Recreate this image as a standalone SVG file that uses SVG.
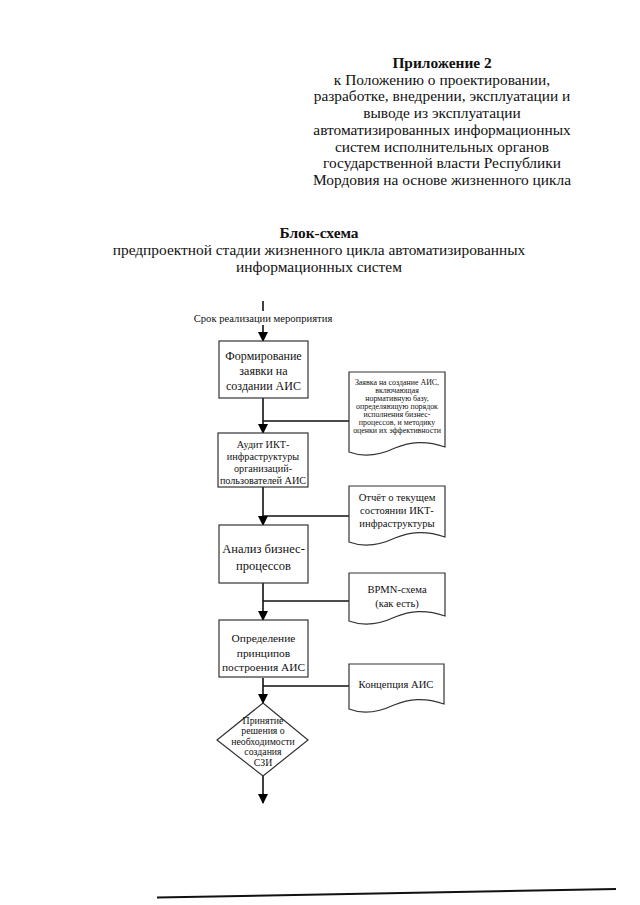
<svg xmlns="http://www.w3.org/2000/svg" width="640" height="905" viewBox="0 0 640 905" font-family="'Liberation Serif','Times New Roman',serif">
<defs>
<marker id="ah" markerWidth="10" markerHeight="10" refX="9" refY="5" orient="auto" markerUnits="userSpaceOnUse">
<path d="M0,0 L10,5 L0,10 Z" fill="#000"/>
</marker>
<style>
text{font-family:"Liberation Serif","Times New Roman",serif;fill:#111;text-anchor:middle}
.h{font-size:15.4px}
.b{font-weight:bold}
.box{fill:#fff;stroke:#333;stroke-width:1.2}
.doc{fill:#fff;stroke:#333;stroke-width:1.2}
.c{stroke:#111;stroke-width:1.6;fill:none}
.t14{font-size:12px}
.t13{font-size:12.5px}
.t12{font-size:11.4px}
.t11{font-size:10.6px}
.t10{font-size:10.2px}
.t9{font-size:9.8px}
.t8{font-size:7.9px}
</style>
</defs>
<rect width="640" height="905" fill="#fff"/>

<g id="header">
<text class="h b" x="442" y="68">Приложение 2</text>
<text class="h" x="442" y="85">к Положению о проектировании,</text>
<text class="h" x="442" y="101">разработке, внедрении, эксплуатации и</text>
<text class="h" x="442" y="118">выводе из эксплуатации</text>
<text class="h" x="442" y="135">автоматизированных информационных</text>
<text class="h" x="442" y="152">систем исполнительных органов</text>
<text class="h" x="442" y="168">государственной власти Республики</text>
<text class="h" x="442" y="185">Мордовия на основе жизненного цикла</text>
</g>

<g id="title">
<text class="h b" x="319" y="238">Блок-схема</text>
<text class="h" x="319" y="255">предпроектной стадии жизненного цикла автоматизированных</text>
<text class="h" x="319" y="272">информационных систем</text>
</g>

<g id="start">
<text class="t11" x="263" y="322">Срок реализации мероприятия</text>
</g>

<g id="connectors">
<line class="c" x1="263" y1="301" x2="263" y2="311"/>
<line class="c" x1="263" y1="325" x2="263" y2="341" marker-end="url(#ah)"/>
<line class="c" x1="263" y1="398" x2="263" y2="433" marker-end="url(#ah)"/>
<line class="c" x1="349" y1="421" x2="263" y2="421"/>
<line class="c" x1="263" y1="487" x2="263" y2="525" marker-end="url(#ah)"/>
<line class="c" x1="349" y1="516" x2="263" y2="516"/>
<line class="c" x1="263" y1="583" x2="263" y2="620" marker-end="url(#ah)"/>
<line class="c" x1="349" y1="601" x2="263" y2="601"/>
<line class="c" x1="263" y1="678" x2="263" y2="703" marker-end="url(#ah)"/>
<line class="c" x1="349" y1="686" x2="263" y2="686"/>
<line class="c" x1="263" y1="776" x2="263" y2="803" marker-end="url(#ah)"/>
</g>

<g id="box1">
<rect class="box" x="219" y="341" width="89" height="57"/>
<text class="t14" x="263.5" y="360">Формирование</text>
<text class="t14" x="263.5" y="375">заявки на</text>
<text class="t14" x="263.5" y="390">создании АИС</text>
</g>

<g id="doc1">
<path class="doc" d="M349,372 H445 V447 C425,440 410,442 395,448 C380,455 365,458 349,452 Z"/>
<text class="t8" x="397" y="385">Заявка на создание АИС,</text>
<text class="t8" x="397" y="393">включающая</text>
<text class="t8" x="397" y="401">нормативную базу,</text>
<text class="t8" x="397" y="409">определяющую порядок</text>
<text class="t8" x="397" y="417">исполнения бизнес-</text>
<text class="t8" x="397" y="425">процессов, и методику</text>
<text class="t8" x="397" y="433">оценки их эффективности</text>
</g>

<g id="box2">
<rect class="box" x="218" y="433" width="90" height="54"/>
<text class="t10" x="263" y="448">Аудит ИКТ-</text>
<text class="t10" x="263" y="460">инфраструктуры</text>
<text class="t10" x="263" y="472">организаций-</text>
<text class="t10" x="263" y="484">пользователей АИС</text>
</g>

<g id="doc2">
<path class="doc" d="M349,486 H445 V537 C425,530 410,532 395,538 C380,545 365,548 349,542 Z"/>
<text class="t11" x="397" y="501">Отчёт о текущем</text>
<text class="t11" x="397" y="514">состоянии ИКТ-</text>
<text class="t11" x="397" y="527">инфраструктуры</text>
</g>

<g id="box3">
<rect class="box" x="219" y="525" width="89" height="58"/>
<text class="t13" x="263.5" y="553">Анализ бизнес-</text>
<text class="t13" x="263.5" y="570">процессов</text>
</g>

<g id="doc3">
<path class="doc" d="M349,573 H445 V616 C425,609 410,611 395,617 C380,624 365,627 349,621 Z"/>
<text class="t11" x="397" y="593">BPMN-схема</text>
<text class="t11" x="397" y="607">(как есть)</text>
</g>

<g id="box4">
<rect class="box" x="219" y="620" width="89" height="57"/>
<text class="t12" x="263.5" y="642">Определение</text>
<text class="t12" x="263.5" y="657">принципов</text>
<text class="t12" x="263.5" y="671">построения АИС</text>
</g>

<g id="doc4">
<path class="doc" d="M349,664 H444 V704 C424,697 409,699 394,705 C379,712 364,715 349,709 Z"/>
<text class="t11" x="396" y="688">Концепция АИС</text>
</g>

<g id="decision">
<path class="box" d="M263,703 L308,740 L263,776 L217,740 Z"/>
<text class="t9" x="263" y="724">Принятие</text>
<text class="t9" x="263" y="734">решения о</text>
<text class="t9" x="263" y="745">необходимости</text>
<text class="t9" x="263" y="755">создания</text>
<text class="t9" x="263" y="766">СЗИ</text>
</g>

<g id="footer-line">
<line x1="157" y1="897.5" x2="616" y2="889" stroke="#111" stroke-width="2"/>
</g>
</svg>
